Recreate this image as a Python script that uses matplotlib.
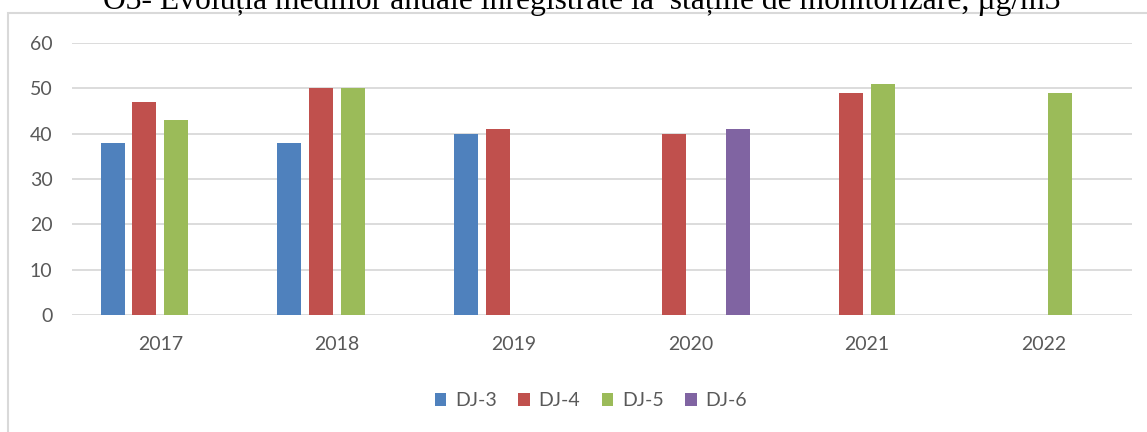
import numpy as np
import matplotlib.pyplot as plt
from matplotlib.patches import Rectangle

years = ["2017", "2018", "2019", "2020", "2021", "2022"]
series = ["DJ-3", "DJ-4", "DJ-5", "DJ-6"]
dj3 = [38, 38, 40, np.nan, np.nan, np.nan]
dj4 = [47, 50, 41, 40, 49, np.nan]
dj5 = [43, 50, np.nan, np.nan, 51, 49]
dj6 = [np.nan, np.nan, np.nan, 41, np.nan, np.nan]
colors = ["#4F81BD", "#C0504D", "#9BBB59", "#8064A2"]

fig = plt.figure(figsize=(11.47, 4.32), dpi=100)
ax = fig.add_axes([72 / 1147, 1 - 315 / 432, 1060 / 1147, 272 / 432])

x = np.arange(len(years))
step = 0.18
width = 0.136
for i, (name, vals, c) in enumerate(zip(series, [dj3, dj4, dj5, dj6], colors)):
    ax.bar(x + (i - 1.5) * step, vals, width=width, color=c, label=name, zorder=3)

ax.set_xlim(-0.5, 5.5)
ax.set_ylim(0, 60)
ax.set_yticks(range(0, 61, 10))
ax.set_xticks(x)
ax.set_xticklabels(years)
ax.yaxis.grid(True, color="#D9D9D9", linewidth=1.3, zorder=0)
for s in ax.spines.values():
    s.set_visible(False)
ax.tick_params(length=0, labelsize=14, colors="#595959")
ax.tick_params(axis="x", pad=15)
ax.tick_params(axis="y", pad=14)
for lab in ax.get_xticklabels() + ax.get_yticklabels():
    lab.set_family("Lato")

leg = ax.legend(loc="center", bbox_to_anchor=(591 / 1147, 1 - 401 / 432),
                bbox_transform=fig.transFigure, ncol=4, frameon=False,
                handlelength=0.6, handleheight=0.6, handletextpad=0.45,
                columnspacing=1.1, prop={"family": "Lato", "size": 14})
for t in leg.get_texts():
    t.set_color("#595959")

# chart frame
fig.patches.append(Rectangle((8 / 1147, -0.1), 1.2, 1 - 13 / 432 + 0.1,
                             transform=fig.transFigure, fill=False,
                             edgecolor="#D9D9D9", linewidth=1.5))

fig.text(582 / 1147, 1 - 9 / 432,
         "O3- Evoluția mediilor anuale înregistrate la  stațiile de monitorizare, µg/m3",
         ha="center", va="baseline", family="Liberation Serif", fontsize=22.8)

fig.savefig("out.png", dpi=100)
